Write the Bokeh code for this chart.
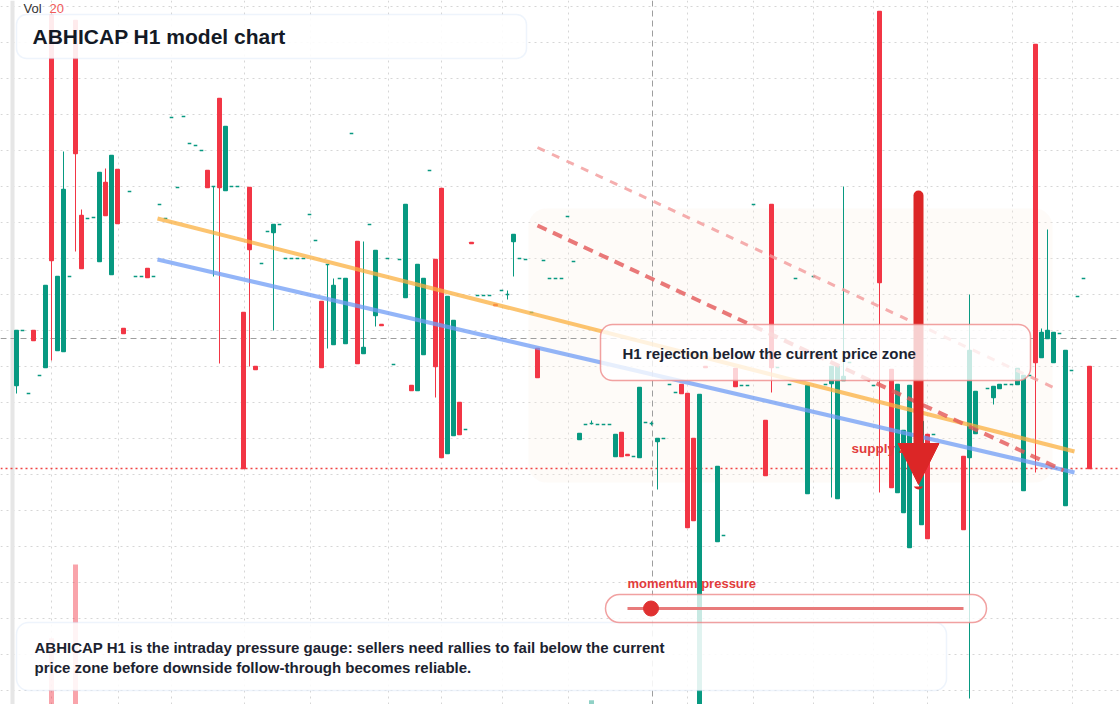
import numpy as np
from bokeh.plotting import figure
from bokeh.models import (Range1d, BoxAnnotation, Label, Span, Arrow, NormalHead,
                          Grid, FixedTicker, ColumnDataSource)
from bokeh.embed import file_html
from bokeh.resources import INLINE

# ---------------- data (time slot, OHLC) ----------------
t = [16, 22, 28, 33, 39, 45, 51, 57, 63, 69,
     75, 81, 87, 93, 99, 105, 111, 117, 123, 129,
     135, 141, 147, 153, 159, 165, 171, 177, 183, 189,
     195, 201, 207, 213, 219, 225, 231, 237, 243, 249,
     255, 261, 267, 273, 279, 285, 291, 297, 303, 309,
     315, 321, 327, 333, 339, 345, 351, 357, 363, 369,
     375, 381, 387, 393, 399, 405, 411, 417, 423, 429,
     435, 441, 447, 453, 459, 465, 471, 477, 483, 489,
     495, 501, 507, 513, 519, 525, 531, 537, 543, 549,
     555, 561, 567, 573, 579, 585, 591, 597, 603, 609,
     615, 621, 627, 633, 639, 645, 651, 657, 663, 669,
     675, 681, 687, 693, 699, 705, 717, 723, 735, 741,
     747, 753, 765, 771, 777, 789, 795, 807, 813, 825,
     831, 837, 843, 849, 873, 879, 891, 897, 903, 909,
     921, 927, 933, 963, 969, 975, 987, 993, 999, 1005,
     1011, 1017, 1023, 1029, 1035, 1041, 1047, 1053, 1059, 1065,
     1071, 1077, 1083, 1089]

open_ = [319, 374, 311, 374, 329, 337, 689, 354, 353, 428,
         684, 489, 486, 487, 443, 522, 430, 535, 376, 513,
         428, 428, 436, 428, 500, 486, 587, 517, 588, 561,
         559, 554, 534, 518, 606, 514, 518, 518, 392, 517,
         338, 441, 473, 472, 480, 446, 446, 446, 446, 490,
         464, 403, 440, 360, 426, 361, 571, 463, 351, 480,
         389, 380, 446, 340, 445, 407, 319, 314, 350, 534,
         445, 516, 251, 269, 302, 275, 462, 409, 409, 409,
         400, 414, 410, 463, 446, 445, 392, 356, 444, 426,
         426, 426, 488, 443, 265, 280, 281, 280, 280, 280,
         248, 272, 250, 248, 247, 282, 281, 263, 266, 320,
         312, 320, 311, 266, 0, 338, 163, 169, 336, 319,
         319, 500, 284, 500, 337, 320, 426, 211, 428, 320,
         321, 206, 324, 342, 319, 693, 335, 212, 192, 157,
         180, 270, 270, 248, 247, 271, 316, 307, 316, 320,
         320, 320, 214, 329, 660, 347, 366, 342, 371, 199,
         334, 408, 426, 338]

high = [374, 374, 311, 374, 329, 419, 689, 428, 553, 428,
        684, 495, 486, 487, 532, 536, 549, 535, 376, 513,
        428, 428, 436, 428, 500, 486, 587, 517, 588, 561,
        559, 554, 534, 518, 606, 578, 518, 518, 392, 517,
        338, 441, 473, 480, 480, 446, 446, 446, 446, 490,
        464, 403, 440, 426, 426, 426, 571, 463, 463, 480,
        454, 380, 446, 340, 445, 500, 319, 440, 426, 534,
        445, 516, 408, 384, 302, 275, 462, 409, 409, 409,
        400, 414, 414, 470, 446, 445, 392, 356, 444, 426,
        426, 426, 488, 443, 271, 280, 284, 280, 280, 280,
        270, 272, 250, 248, 317, 282, 283, 266, 266, 320,
        312, 320, 311, 266, 310, 338, 238, 169, 336, 319,
        319, 500, 284, 500, 337, 320, 426, 319, 428, 320,
        338, 338, 518, 342, 319, 693, 335, 320, 274, 319,
        283, 270, 270, 248, 410, 313, 316, 318, 320, 320,
        320, 336, 329, 329, 660, 376, 475, 372, 371, 354,
        334, 408, 426, 338]

low = [311, 374, 311, 364, 329, 337, 344, 354, 353, 428,
       453, 436, 486, 487, 443, 489, 430, 481, 371, 513,
       428, 428, 427, 428, 500, 486, 587, 517, 588, 561,
       559, 554, 517, 428, 341, 514, 518, 518, 236, 338,
       335, 441, 473, 374, 480, 446, 446, 446, 446, 490,
       464, 337, 356, 360, 426, 361, 571, 341, 351, 480,
       378, 379, 446, 340, 445, 407, 314, 314, 350, 534,
       307, 247, 251, 269, 270, 275, 461, 409, 409, 409,
       399, 414, 405, 428, 446, 445, 392, 327, 444, 426,
       426, 426, 488, 443, 265, 280, 280, 280, 280, 280,
       248, 248, 249, 248, 247, 282, 279, 215, 266, 320,
       312, 311, 177, 184, 0, 337, 163, 169, 318, 319,
       319, 500, 229, 312, 337, 320, 426, 211, 428, 320,
       207, 206, 324, 342, 319, 212, 217, 212, 192, 157,
       180, 166, 270, 175, 6, 271, 316, 300, 316, 320,
       320, 320, 214, 329, 232, 347, 366, 342, 371, 199,
       334, 408, 426, 236]

close = [374, 374, 311, 364, 329, 419, 444, 428, 515, 428,
         551, 436, 486, 487, 532, 489, 549, 481, 371, 513,
         428, 428, 427, 428, 500, 486, 587, 517, 588, 561,
         559, 554, 517, 518, 517, 578, 518, 518, 236, 455,
         335, 441, 473, 480, 480, 446, 446, 446, 446, 490,
         464, 337, 440, 419, 426, 426, 571, 341, 357, 480,
         454, 379, 446, 340, 445, 500, 314, 440, 426, 534,
         338, 247, 408, 384, 270, 275, 461, 409, 409, 409,
         399, 414, 410, 470, 446, 445, 392, 327, 444, 426,
         426, 426, 488, 443, 271, 280, 281, 280, 280, 280,
         270, 248, 249, 248, 317, 282, 281, 266, 266, 320,
         312, 311, 177, 184, 310, 337, 238, 169, 318, 319,
         319, 500, 229, 337, 337, 320, 426, 319, 428, 320,
         338, 338, 328, 342, 319, 422, 217, 320, 274, 319,
         283, 166, 270, 175, 354, 313, 316, 318, 320, 320,
         320, 336, 329, 329, 342, 372, 374, 372, 371, 354,
         334, 408, 426, 236]

vol_t = [51, 75, 591]
vol = [9.4, 19.9, 0.6]

trend_t = [157, 1074]
fast_ma = [486, 253]
slow_ma = [445, 232]
res_t = [537, 1063]
res_y = [479, 234]
res2_t = [537, 1053]
res2_y = [557, 317]
last_price = 366
cursor_t = 652
support_level = 236
zone_t = (528, 1052)
zone_y = (222, 496)
arrow_t = 918
arrow_y = (509, 220)
momentum = 0.07

xgrid_ticks = [51, 118, 171, 244, 310, 388, 441, 502, 568, 687, 753, 813, 873, 927, 1012, 1072]
ygrid_ticks = [698, 662, 626, 590, 554, 518, 482, 446, 410, 374, 338, 302, 266, 230, 194, 158, 122, 86, 50, 14]

GREEN = "#089981"
RED = "#f23645"
FONT = "Liberation Sans"

# ---------------- figure ----------------
p = figure(width=1120, height=704, x_range=Range1d(0, 1120), y_range=Range1d(0, 704),
           output_backend="svg", toolbar_location=None,
           x_axis_location=None, y_axis_location=None, min_border=0,
           outline_line_color=None, background_fill_color="white",
           border_fill_color="white")
p.grid.visible = False
p.add_layout(Grid(dimension=0, ticker=FixedTicker(ticks=xgrid_ticks),
                  grid_line_color="#d6d6d6", grid_line_dash="2 4", grid_line_width=1))
p.add_layout(Grid(dimension=1, ticker=FixedTicker(ticks=ygrid_ticks),
                  grid_line_color="#d6d6d6", grid_line_dash="2 4", grid_line_width=1))

p.add_layout(BoxAnnotation(left=10, right=14, fill_color="#e6e6e6", fill_alpha=1,
                           line_alpha=0, level="underlay"))
p.add_layout(BoxAnnotation(left=zone_t[0], right=zone_t[1], bottom=zone_y[0], top=zone_y[1],
                           fill_color="#fbeee2", fill_alpha=0.25, line_alpha=0,
                           border_radius=18, level="underlay"))

p.add_layout(Span(location=last_price, dimension="width", line_color="#9e9e9e",
                  line_dash="6 4", line_width=1, level="underlay"))
p.add_layout(Span(location=cursor_t, dimension="height", line_color="#9e9e9e",
                  line_dash="6 4", line_width=1, level="underlay"))
p.add_layout(Span(location=support_level, dimension="width", line_color="#ef4444",
                  line_dash="2 3", line_width=1.3, level="underlay"))

# volume
p.extra_y_ranges = {"vol": Range1d(0, 100)}
vol_col = [RED, RED, GREEN]
p.vbar(x=vol_t, top=vol, bottom=0, width=5, y_range_name="vol",
       fill_color=vol_col, line_alpha=0, fill_alpha=0.45)

# candles
ta = np.array(t); o = np.array(open_); h = np.array(high); lo = np.array(low); c = np.array(close)
inc = c >= o
for mask, col in ((inc, GREEN), (~inc, RED)):
    src = ColumnDataSource(dict(x=ta[mask], h=h[mask], l=lo[mask],
                                top=np.maximum(o, c)[mask], bottom=np.minimum(o, c)[mask]))
    p.segment(x0="x", y0="h", x1="x", y1="l", source=src, line_color=col, line_width=1)
    p.vbar(x="x", width=3.6, top="top", bottom="bottom", source=src,
           fill_color=col, line_color=col, line_width=1.4)

# overlay lines
p.line(trend_t, fast_ma, line_color="#fbb040", line_width=4, line_alpha=0.75)
p.line(trend_t, slow_ma, line_color="#6f9cf5", line_width=4, line_alpha=0.75)
p.line(res2_t, res2_y, line_color="#f29a9a", line_width=3, line_alpha=0.8, line_dash="8 8")
p.line(res_t, res_y, line_color="#e45858", line_width=4, line_alpha=0.8, line_dash="10 7")

p.add_layout(Label(x=851, y=256, text="supply zone", text_color="#e23c3c",
                   text_font=FONT, text_font_size="13.5px", text_font_style="bold",
                   text_baseline="middle"))

p.add_layout(Arrow(end=NormalHead(size=41, fill_color="#dc2626", line_color="#dc2626"),
                   x_start=arrow_t, y_start=arrow_y[0], x_end=arrow_t, y_end=arrow_y[1],
                   line_color="#dc2626", line_width=10, line_cap="round"))

# annotation boxes
p.add_layout(BoxAnnotation(left=600, right=1030, bottom=324, top=380, fill_color="white",
                           fill_alpha=0.78, line_color="#ee8a8a", line_alpha=0.8,
                           line_width=1.5, border_radius=12))
p.add_layout(Label(x=622, y=351, text="H1 rejection below the current price zone",
                   text_color="#1c2330", text_font=FONT, text_font_size="15px",
                   text_font_style="bold", text_baseline="middle"))

p.add_layout(BoxAnnotation(left=16, right=526, bottom=646, top=690, fill_color="white",
                           fill_alpha=0.9, line_color="#c8daf6", line_width=1.5,
                           border_radius=10))
p.add_layout(Label(x=32, y=668, text="ABHICAP H1 model chart", text_color="#131a26",
                   text_font=FONT, text_font_size="21px", text_font_style="bold",
                   text_baseline="middle"))

p.add_layout(BoxAnnotation(left=16, right=946, bottom=14, top=82, fill_color="white",
                           fill_alpha=0.88, line_color="#c8daf6", line_width=1.5,
                           border_radius=12))
p.add_layout(Label(x=34, y=57, text="ABHICAP H1 is the intraday pressure gauge: sellers need rallies to fail below the current",
                   text_color="#1c2330", text_font=FONT, text_font_size="15px",
                   text_font_style="bold", text_baseline="middle"))
p.add_layout(Label(x=34, y=37, text="price zone before downside follow-through becomes reliable.",
                   text_color="#1c2330", text_font=FONT, text_font_size="15px",
                   text_font_style="bold", text_baseline="middle"))

# momentum gauge
p.add_layout(BoxAnnotation(left=605, right=986, bottom=82, top=110, fill_color="white",
                           fill_alpha=0.78, line_color="#ee8a8a", line_alpha=0.8,
                           line_width=1.5, border_radius=14))
track = (627, 963)
p.line(list(track), [96, 96], line_color="#e87b7b", line_width=3, level="overlay")
p.scatter([track[0] + momentum * (track[1] - track[0])], [96], size=15,
          fill_color="#e03131", line_color="#e03131", level="overlay")
p.add_layout(Label(x=627, y=121, text="momentum pressure", text_color="#e23c3c",
                   text_font=FONT, text_font_size="13px", text_font_style="bold",
                   text_baseline="middle"))

p.add_layout(Label(x=23, y=696, text="Vol", text_color="#333333", text_font=FONT,
                   text_font_size="13px", text_baseline="middle"))
p.add_layout(Label(x=49, y=696, text="20", text_color="#f05a5a", text_font=FONT,
                   text_font_size="13px", text_baseline="middle"))

open("out.html", "w").write(file_html(p, INLINE))
